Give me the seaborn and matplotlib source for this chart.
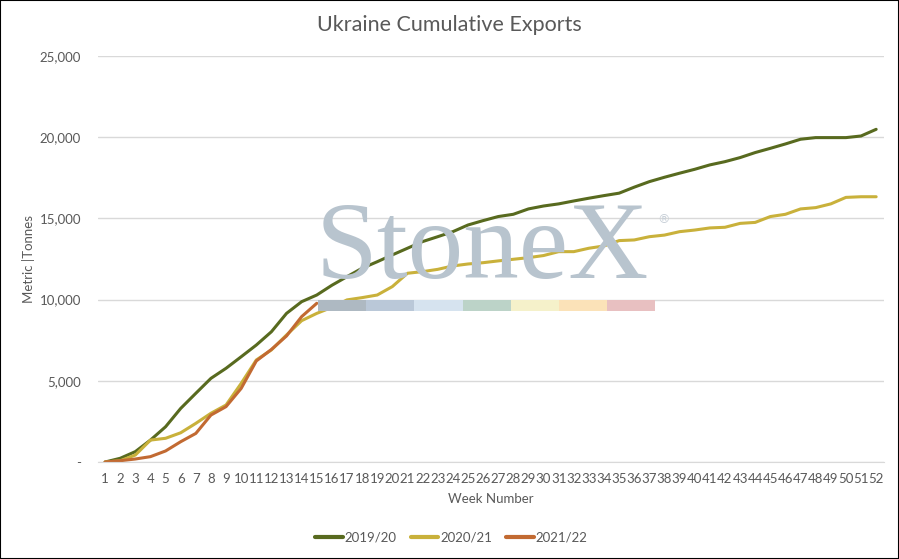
import matplotlib
matplotlib.use("Agg")
import matplotlib.pyplot as plt
import matplotlib.ticker as mticker
from matplotlib.patches import Rectangle
import numpy as np
import pandas as pd
import seaborn as sns

weeks = list(range(1, 53))

exports_2019_20 = [
    0, 230, 640, 1350, 2170, 3300, 4230, 5150, 5770, 6480,
    7200, 8020, 9150, 9870, 10280, 10880, 11410, 11930, 12330, 12750,
    13160, 13570, 13870, 14180, 14590, 14860, 15110, 15250, 15580, 15760,
    15890, 16070, 16240, 16400, 16550, 16920, 17260, 17530, 17780, 18020,
    18290, 18490, 18740, 19050, 19310, 19580, 19870, 19970, 19970, 19970,
    20070, 20480,
]
exports_2020_21 = [
    0, 80, 430, 1350, 1460, 1800, 2380, 3000, 3510, 4840,
    6280, 6900, 7820, 8700, 9150, 9520, 9980, 10120, 10280, 10800,
    11620, 11720, 11860, 12070, 12190, 12270, 12380, 12480, 12580, 12710,
    12950, 12950, 13160, 13300, 13630, 13670, 13870, 13970, 14180, 14280,
    14410, 14450, 14690, 14750, 15110, 15250, 15580, 15660, 15890, 16290,
    16330, 16330,
]
exports_2021_22 = [
    0, 80, 185, 330, 680, 1250, 1760, 2890, 3410, 4530,
    6220, 6930, 7760, 8950, 9770,
]

seasons = ["2019/20", "2020/21", "2021/22"]
colors = ["#586A1F", "#C9B13B", "#C26A32"]

frames = []
for season, vals in zip(seasons, [exports_2019_20, exports_2020_21, exports_2021_22]):
    frames.append(pd.DataFrame({"Week": weeks[:len(vals)], "Tonnes": vals, "Season": season}))
df = pd.concat(frames, ignore_index=True)

sns.set_style("white")
plt.rcParams["font.family"] = ["Lato", "DejaVu Sans"]
text_grey = "#595959"

fig = plt.figure(figsize=(8.99, 5.59), dpi=100)
ax = fig.add_axes([0.1085, 0.1735, 0.8745, 0.7265])

# StoneX watermark
fig.text(0.537, (559 - 278) / 559, "StoneX", family="Liberation Serif",
         fontsize=80, color="#B8C4CE", ha="center", va="baseline", zorder=0)
fig.text(0.738, 0.608, "®", family="DejaVu Sans", fontsize=9,
         color="#C8D0D8", ha="center", va="center", zorder=0)
block_colors = ["#AEB9C2", "#BAC8D8", "#D6E3EF", "#BCD3C8", "#F5F1CA", "#FBE2B8", "#E8C0C1"]
bx, bw = 318 / 899, 48.2 / 899
for i, c in enumerate(block_colors):
    fig.patches.append(Rectangle((bx + i * bw, (559 - 311) / 559), bw, 11 / 559,
                                 transform=fig.transFigure, facecolor=c,
                                 edgecolor="none", zorder=0))
ax.set_facecolor("none")

sns.lineplot(data=df, x="Week", y="Tonnes", hue="Season", palette=colors,
             linewidth=2.2, ax=ax, legend=False)

ax.set_xlim(0.5, 52.5)
ax.set_ylim(0, 25000)
ax.set_xticks(weeks)
ax.set_xticklabels([str(w) for w in weeks], fontsize=9.5, color=text_grey)
ax.yaxis.set_major_locator(mticker.MultipleLocator(5000))
ax.yaxis.set_major_formatter(mticker.FuncFormatter(
    lambda v, p: "-" if v == 0 else f"{int(v):,}"))
ax.tick_params(axis="y", labelsize=9.5, labelcolor=text_grey, length=0, pad=12)
ax.tick_params(axis="x", length=0, pad=8)
ax.grid(axis="y", color="#D9D9D9", linewidth=1)
for s in ["top", "right", "left"]:
    ax.spines[s].set_visible(False)
ax.spines["bottom"].set_color("#D9D9D9")

ax.set_xlabel("Week Number", fontsize=9.5, color=text_grey, labelpad=6)
ax.set_ylabel("Metric |Tonnes", fontsize=9.5, color=text_grey)
ax.yaxis.set_label_coords(-0.08, 0.5)
fig.text(0.5, 0.955, "Ukraine Cumulative Exports", ha="center", va="center",
         fontsize=15.5, color=text_grey)

handles = [plt.Line2D([], [], color=c, linewidth=3) for c in colors]
fig.legend(handles, seasons, loc="center", bbox_to_anchor=(0.502, 0.038), ncol=3,
           frameon=False, fontsize=9.5, handlelength=2.1, columnspacing=1.05,
           handletextpad=0.15, labelcolor=text_grey)

fig.patches.append(Rectangle((0, 0), 1, 1, transform=fig.transFigure,
                             facecolor="none", edgecolor="black", linewidth=1.5))

fig.savefig("out.png", dpi=100)
